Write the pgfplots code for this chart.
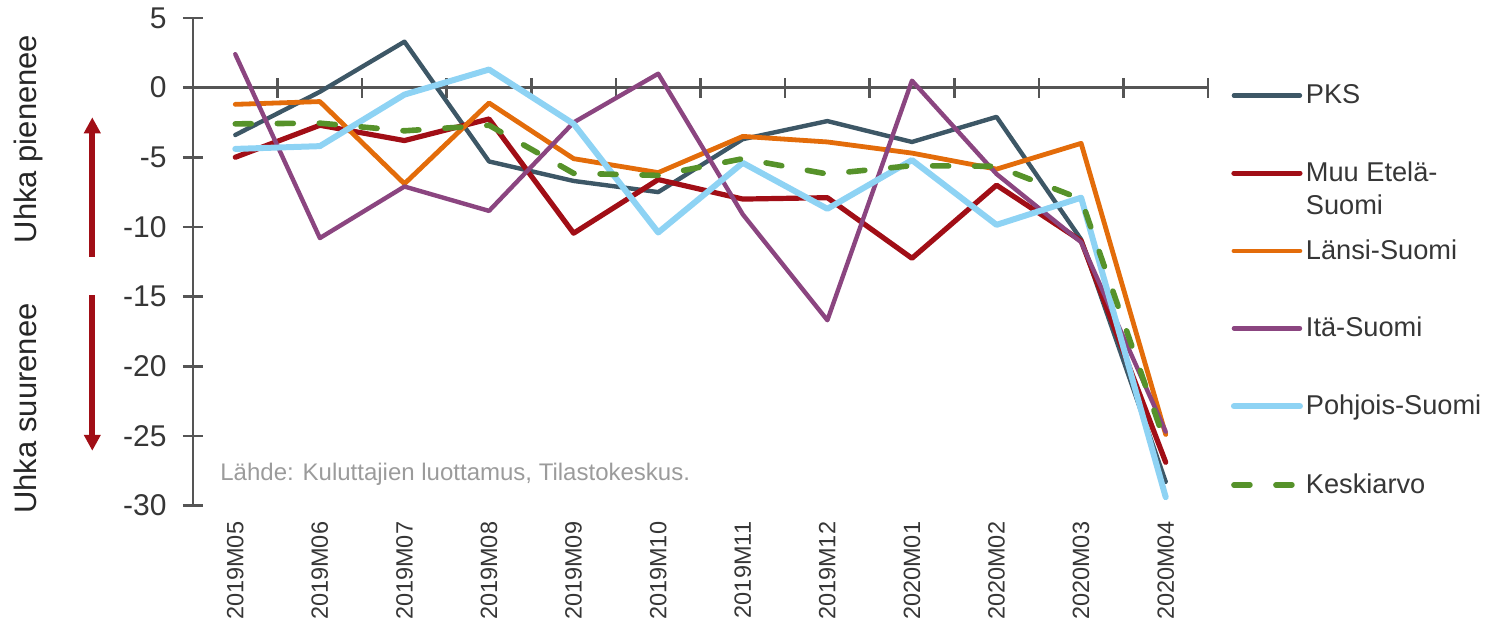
\documentclass[border=0pt]{standalone}
\usepackage{fontspec}
\setmainfont{Liberation Sans}
\usepackage{pgfplots}
\pgfplotsset{compat=1.18}
\usetikzlibrary{arrows.meta}

\definecolor{cPKS}{HTML}{3D5766}
\definecolor{cMuu}{HTML}{A10E16}
\definecolor{cLansi}{HTML}{E36C0A}
\definecolor{cIta}{HTML}{8B4580}
\definecolor{cPoh}{HTML}{8ED3F4}
\definecolor{cKes}{HTML}{56922A}
\definecolor{axiscol}{HTML}{555555}
\definecolor{txt}{HTML}{363636}
\definecolor{srcgray}{HTML}{9B9B9B}
\definecolor{arrowred}{HTML}{A10E16}

\pgfplotstableread{
x PKS Muu Lansi Ita Poh Kes
0 -3.4 -5.0 -1.2 2.4 -4.4 -2.6
1 -0.3 -2.7 -1.0 -10.8 -4.2 -2.55
2 3.3 -3.8 -6.9 -7.1 -0.5 -3.1
3 -5.3 -2.25 -1.1 -8.85 1.3 -2.7
4 -6.7 -10.45 -5.1 -2.5 -2.6 -6.15
5 -7.5 -6.6 -6.1 1.0 -10.4 -6.3
6 -3.7 -8.0 -3.5 -9.1 -5.4 -5.1
7 -2.4 -7.9 -3.9 -16.7 -8.7 -6.2
8 -3.9 -12.25 -4.7 0.5 -5.2 -5.6
9 -2.1 -7.0 -5.85 -6.2 -9.85 -5.65
10 -10.9 -11.0 -4.0 -11.1 -7.9 -8.0
11 -28.3 -26.9 -24.9 -24.7 -29.4 -25.6
}\datatable

\begin{document}
\begin{tikzpicture}
\useasboundingbox (-96.5bp,-57.75bp) rectangle (649.5bp,252.75bp);

% category labels
\begin{axis}[
  at={(0,0)}, anchor=south west,
  scale only axis, width=507.5bp, height=243.75bp,
  xmin=-0.5, xmax=11.5, ymin=-30, ymax=5,
  hide y axis, axis x line=bottom,
  x axis line style={draw=none},
  xtick={0,1,...,11},
  xticklabels={2019M05,2019M06,2019M07,2019M08,2019M09,2019M10,2019M11,2019M12,2020M01,2020M02,2020M03,2020M04},
  major tick length=0pt, xtick style={draw=none},
  x tick label style={rotate=90, anchor=east, inner sep=0pt, text=txt, font=\fontsize{11.75bp}{14bp}\selectfont},
  xticklabel shift=8bp,
]
\end{axis}

% main axis
\begin{axis}[
  at={(0,0)}, anchor=south west,
  scale only axis, width=507.5bp, height=243.75bp,
  xmin=-0.5, xmax=11.5, ymin=-30, ymax=5,
  axis x line=middle, axis y line=left,
  axis line style={-, draw=axiscol, line width=1.3bp},
  xtick={-0.5,0.5,1.5,2.5,3.5,4.5,5.5,6.5,7.5,8.5,9.5,10.5,11.5},
  xticklabels={},
  ytick={-30,-25,-20,-15,-10,-5,0,5},
  yticklabels={-30,-25,-20,-15,-10,-5,0,5},
  tick align=center, major tick length=10bp,
  tick style={draw=axiscol, line width=1.3bp},
  yticklabel style={font=\fontsize{15bp}{17bp}\selectfont, text=txt, inner sep=0pt, anchor=east, xshift=-8bp},
  clip=false,
  legend cell align=left,
  legend style={at={(1.0226,0.8455)}, anchor=north west, draw=none, fill=none,
    inner sep=0pt, outer sep=0pt, row sep=36.4bp, column sep=1.5bp,
    nodes={inner sep=0pt, outer sep=0pt, text=txt, font=\fontsize{13.6bp}{16.5bp}\selectfont}},
  legend image code/.code={\draw[#1] (0bp,0bp) -- (33bp,0bp);},
  every axis plot/.append style={line join=round, line cap=round},
]
\addplot[cPKS, line width=2.2bp] table[x=x, y=PKS] {\datatable};
\addlegendentry{\smash{\raisebox{-4.87bp}{PKS}}}
\addplot[cMuu, line width=2.6bp] table[x=x, y=Muu] {\datatable};
\addlegendentry{\smash{\raisebox{-4.87bp}{\vtop{\hbox{Muu Etelä-}\hbox{Suomi}}}}}
\addplot[cLansi, line width=2.4bp] table[x=x, y=Lansi] {\datatable};
\addlegendentry{\smash{\raisebox{-4.87bp}{Länsi-Suomi}}}
\addplot[cIta, line width=2.2bp] table[x=x, y=Ita] {\datatable};
\addlegendentry{\smash{\raisebox{-4.87bp}{Itä-Suomi}}}
\addplot[cPoh, line width=3bp] table[x=x, y=Poh] {\datatable};
\addlegendentry{\smash{\raisebox{-4.87bp}{Pohjois-Suomi}}}
\addplot[cKes, line width=2.8bp, dash pattern=on 8bp off 13bp] table[x=x, y=Kes] {\datatable};
\addlegendentry{\smash{\raisebox{-4.87bp}{Keskiarvo}}}
\end{axis}

\draw[arrowred, line width=3bp, -{Triangle[length=8bp,width=8bp]}] (-50.35bp,124.25bp) -- (-50.35bp,194.1bp);
\draw[arrowred, line width=3bp, -{Triangle[length=8bp,width=8bp]}] (-50.35bp,105bp) -- (-50.35bp,27.35bp);
\node[rotate=90, anchor=base, inner sep=0pt, text=black!85, font=\fontsize{15.5bp}{18bp}\selectfont] at (-78bp,183.25bp) {Uhka pienenee};
\node[rotate=90, anchor=base, inner sep=0pt, text=black!85, font=\fontsize{15.5bp}{18bp}\selectfont] at (-78bp,48.5bp) {Uhka suurenee};
\node[anchor=base west, inner sep=0pt, text=srcgray, font=\fontsize{12bp}{14bp}\selectfont] at (13.5bp,12.75bp) {Lähde: Kuluttajien luottamus, Tilastokeskus.};
\end{tikzpicture}
\end{document}
